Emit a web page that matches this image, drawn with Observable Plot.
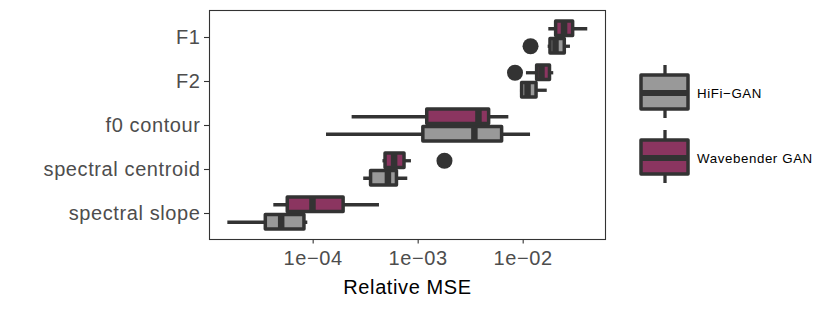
<!DOCTYPE html>
<html>
<head>
<meta charset="utf-8">
<script src="https://cdn.jsdelivr.net/npm/d3@7"></script>
<script src="https://cdn.jsdelivr.net/npm/@observablehq/plot@0.6"></script>
<style>
  body { margin: 0; background: #fff; }
  #wrap { position: relative; width: 830px; height: 313px; font-family: "Liberation Sans", Arial, sans-serif; }
  #wrap svg text { letter-spacing: 0.6px; }
  #legend { position: absolute; left: 0; top: 0; pointer-events: none; }
  #legend text { letter-spacing: 0.45px; }
</style>
</head>
<body>
<div id="wrap"></div>
<script>
// ---- data ----
const categories = ["F1", "F2", "f0 contour", "spectral centroid", "spectral slope"];
const models = ["HiFi\u2212GAN", "Wavebender GAN"];
const modelColors = ["#999999", "#8B3560"];
const xTicks = [1e-4, 1e-3, 1e-2];

const hifiWhiskerLow  = [0.0173, 0.00942, 0.000134, 0.000303, 1.54e-5];
const hifiQ1          = [0.0182, 0.00977, 0.00112, 0.000356, 3.54e-5];
const hifiMedian      = [0.0203, 0.0110, 0.00343, 0.000515, 4.96e-5];
const hifiQ3          = [0.0249, 0.0134, 0.0063, 0.000628, 8.26e-5];
const hifiWhiskerHigh = [0.0282, 0.01695, 0.01175, 0.000796, 8.89e-5];
const hifiOutlierCats   = ["F1"];
const hifiOutlierValues = [0.01175];

const wbWhiskerLow  = [0.01754, 0.01074, 0.000235, 0.000462, 4.22e-5];
const wbQ1          = [0.0206, 0.01358, 0.00122, 0.000489, 5.73e-5];
const wbMedian      = [0.0245, 0.01493, 0.00375, 0.00059, 9.85e-5];
const wbQ3          = [0.0299, 0.0180, 0.00474, 0.000741, 0.000195];
const wbWhiskerHigh = [0.0412, 0.01954, 0.0073, 0.000863, 0.000428];
const wbOutlierCats   = ["F2", "spectral centroid"];
const wbOutlierValues = [0.00836, 0.00178];

// ---- build tables ----
const rows = (lo, q1, med, q3, hi) =>
  categories.map((c, i) => ({cat: c, lo: lo[i], q1: q1[i], med: med[i], q3: q3[i], hi: hi[i]}));
const outRows = (cats, vals) => cats.map((c, i) => ({cat: c, v: vals[i]}));

const series = [
  {data: rows(hifiWhiskerLow, hifiQ1, hifiMedian, hifiQ3, hifiWhiskerHigh),
   out: outRows(hifiOutlierCats, hifiOutlierValues),
   fill: modelColors[0], insetTop: 20.5, insetBottom: 3, dy: 8.75},
  {data: rows(wbWhiskerLow, wbQ1, wbMedian, wbQ3, wbWhiskerHigh),
   out: outRows(wbOutlierCats, wbOutlierValues),
   fill: modelColors[1], insetTop: 3, insetBottom: 20.5, dy: -8.75}
];

const fmt = d => {
  const e = Math.round(Math.log10(d));
  return "1e" + (e < 0 ? "\u2212" : "+") + String(Math.abs(e)).padStart(2, "0");
};

const ink = "#333333";

const chart = Plot.plot({
  width: 830,
  height: 313,
  marginLeft: 209,
  marginRight: 225,
  marginTop: 10,
  marginBottom: 74,
  style: {fontFamily: "Liberation Sans, Arial, sans-serif", background: "white"},
  x: {type: "log", domain: [1.03e-5, 0.0608]},
  y: {type: "band", domain: categories, padding: 0.146},
  marks: [
    ...series.flatMap(s => [
      Plot.ruleY(s.data, {y: "cat", x1: "lo", x2: "hi", dy: s.dy, stroke: ink, strokeWidth: 3.3}),
      Plot.barX(s.data, {y: "cat", x1: "q1", x2: "q3", fill: s.fill, stroke: ink, strokeWidth: 3.5,
        strokeLinejoin: "round", insetTop: s.insetTop, insetBottom: s.insetBottom}),
      Plot.tickX(s.data, {y: "cat", x: "med", stroke: ink, strokeWidth: 6.5,
        insetTop: s.insetTop, insetBottom: s.insetBottom}),
      Plot.dot(s.out, {y: "cat", x: "v", dy: s.dy, r: 8, fill: ink, stroke: "none"})
    ]),
    Plot.frame({stroke: ink, strokeWidth: 1.1}),
    Plot.axisX({ticks: xTicks, tickFormat: fmt, tickSize: 4.5, tickPadding: 6.5, fontSize: 20,
      fill: "#4d4d4d", stroke: ink, strokeWidth: 1.1, label: null}),
    Plot.axisY({tickSize: 5, tickPadding: 4, fontSize: 20, fill: "#4d4d4d", stroke: ink,
      strokeWidth: 1.1, label: null}),
    Plot.text(["Relative MSE"], {text: d => d, frameAnchor: "bottom", lineAnchor: "middle",
      dy: 48, fontSize: 20, fill: "black"})
  ]
});

const wrap = document.getElementById("wrap");
wrap.appendChild(chart);

// ---- legend ----
const leg = d3.select(wrap).append("svg")
  .attr("id", "legend").attr("width", 830).attr("height", 313);
const keyTops = [75, 140];
models.forEach((m, i) => {
  const top = keyTops[i], h = 34, cx = 665;
  const g = leg.append("g");
  g.append("line").attr("x1", cx).attr("x2", cx).attr("y1", top - 10).attr("y2", top + h + 9)
    .attr("stroke", ink).attr("stroke-width", 3.3);
  g.append("rect").attr("x", 641).attr("y", top).attr("width", 47).attr("height", h)
    .attr("fill", modelColors[i]).attr("stroke", ink).attr("stroke-width", 3.5)
    .attr("stroke-linejoin", "round");
  g.append("line").attr("x1", 641).attr("x2", 688).attr("y1", top + h / 2 + 1).attr("y2", top + h / 2 + 1)
    .attr("stroke", ink).attr("stroke-width", 6);
  g.append("text").attr("x", 697).attr("y", top + h / 2 + 1).attr("dy", "0.35em")
    .attr("font-size", 13.3).attr("fill", "black")
    .attr("font-family", "Liberation Sans, Arial, sans-serif").text(m);
});
</script>
</body>
</html>
